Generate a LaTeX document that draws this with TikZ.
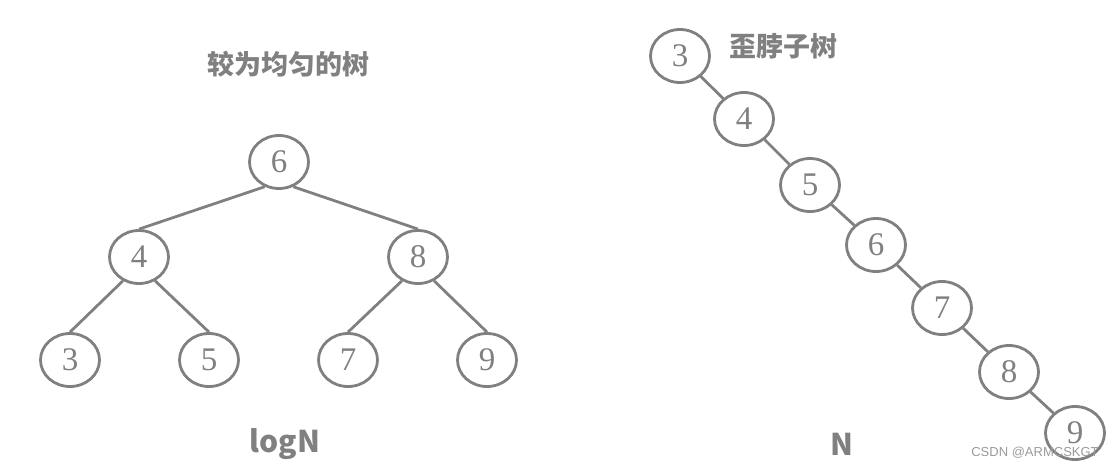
\documentclass[tikz,border=0pt]{standalone}
\usepackage{fontspec}
\setmainfont{Liberation Serif}
\newfontfamily\cjk{Noto Sans CJK SC}
\newfontfamily\wmfont{Liberation Sans}
\usetikzlibrary{shapes.geometric}

\definecolor{treegray}{RGB}{128,128,128}

\begin{document}
\begin{tikzpicture}[
    x=1pt, y=-1pt,
    every node/.style={ellipse, draw=treegray, line width=2.8pt, minimum width=59pt, minimum height=53pt, inner sep=0pt, text=treegray, font=\fontsize{33}{33}\selectfont},
    edge/.style={draw=treegray, line width=2.8pt},
    caption/.style={draw=none, font=\cjk\bfseries\fontsize{27}{27}\selectfont}
]
\useasboundingbox (0,0) rectangle (1110,469);

% balanced tree
\node (L6) at (279,162) {6};
\node (L4) at (139,257) {4};
\node (L8) at (418,257) {8};
\node (L3) at (70,360) {3};
\node (L5) at (209,360) {5};
\node (L7) at (348,360) {7};
\node (L9) at (487,360) {9};

\draw[edge] (L6.-120) -- (L4.north);
\draw[edge] (L6.-60) -- (L8.north);
\draw[edge] (L4.-124) -- (L3.north);
\draw[edge] (L4.-56) -- (L5.north);
\draw[edge] (L8.-124) -- (L7.north);
\draw[edge] (L8.-56) -- (L9.north);

% skewed tree
\node (R3) at (680,56) {3};
\node (R4) at (744,119) {4};
\node (R5) at (810,185) {5};
\node (R6) at (876,245) {6};
\node (R7) at (942,308) {7};
\node (R8) at (1009,372) {8};
\node (R9) at (1075,433) {9};

\draw[edge] (R3) -- (R4);
\draw[edge] (R4) -- (R5);
\draw[edge] (R5) -- (R6);
\draw[edge] (R6) -- (R7);
\draw[edge] (R7) -- (R8);
\draw[edge] (R8) -- (R9);

% labels
\node[caption] (balanced) at (288,64) {较为均匀的树};
\node[caption] (skewed) at (783,46) {歪脖子树};
\node[caption, font=\cjk\bfseries\fontsize{30}{30}\selectfont] (logn) at (285,444) {logN};
\node[caption, font=\cjk\bfseries\fontsize{30}{30}\selectfont] (n) at (842,444) {N};
\node[draw=none, text=treegray!80, font=\wmfont\fontsize{13}{13}\selectfont] (csdn) at (1035,453) {CSDN @ARMCSKGT};
\end{tikzpicture}
\end{document}
